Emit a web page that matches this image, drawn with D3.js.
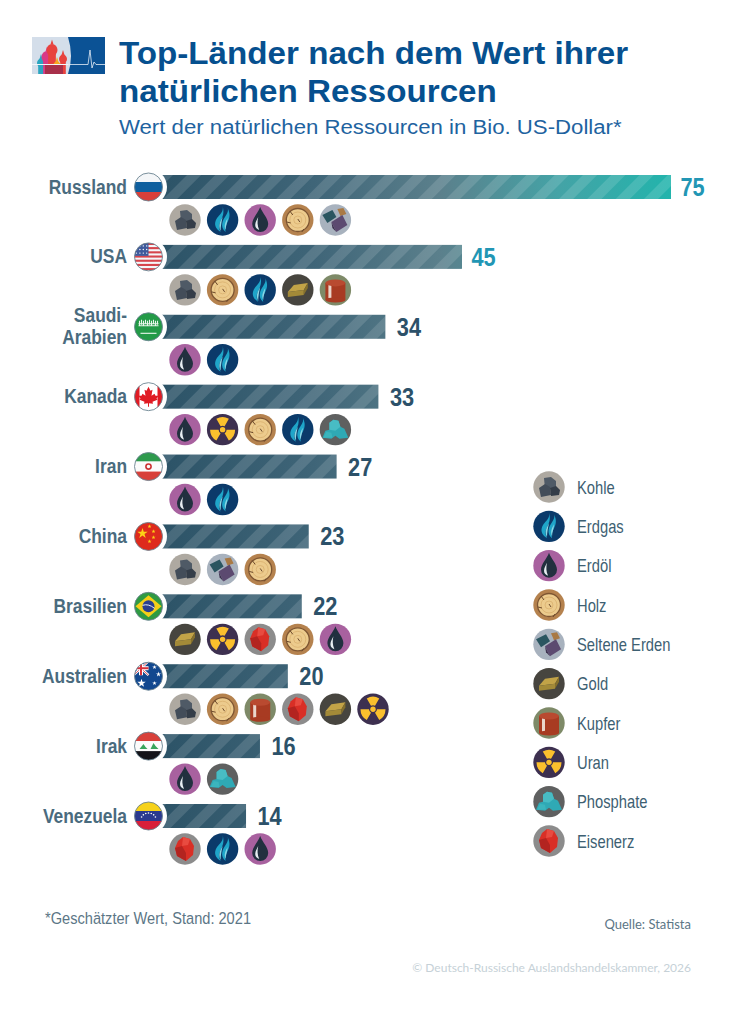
<!DOCTYPE html>
<html lang="de"><head><meta charset="utf-8">
<script src="https://cdn.jsdelivr.net/npm/d3@7"></script>
<style>html,body{margin:0;padding:0;background:#fff}svg{display:block}</style></head>
<body><svg id="c" width="731" height="1024"></svg>
<script>
const countries=["Russland","USA","Saudi-Arabien","Kanada","Iran","China","Brasilien","Australien","Irak","Venezuela"];
const values=[75,45,34,33,27,23,22,20,16,14];
const resources=[
["Kohle","Erdgas","Erdöl","Holz","Seltene Erden"],
["Kohle","Holz","Erdgas","Gold","Kupfer"],
["Erdöl","Erdgas"],
["Erdöl","Uran","Holz","Erdgas","Phosphate"],
["Erdöl","Erdgas"],
["Kohle","Seltene Erden","Holz"],
["Gold","Uran","Eisenerz","Holz","Erdöl"],
["Kohle","Holz","Kupfer","Eisenerz","Gold","Uran"],
["Erdöl","Phosphate"],
["Eisenerz","Erdgas","Erdöl"]];
const legendItems=["Kohle","Erdgas","Erdöl","Holz","Seltene Erden","Gold","Kupfer","Uran","Phosphate","Eisenerz"];
const titleLines=["Top-Länder nach dem Wert ihrer","natürlichen Ressourcen"];
const subtitle="Wert der natürlichen Ressourcen in Bio. US-Dollar*";

const SANS='"Liberation Sans",Arial,sans-serif';
const svg=d3.select("#c"), defs=svg.append("defs");
const x=d3.scaleLinear().domain([0,75]).range([148.5,671]);
const y=d3.scalePoint().domain(countries).range([187,816]);
const slot=d3.scalePoint().domain(d3.range(6)).range([185,373]);
const ly=d3.scalePoint().domain(legendItems).range([487,841]);
const squeeze=(px,py,s)=>`translate(${px},${py}) scale(${s},1)`;

const grad=defs.append("linearGradient").attr("id","barG").attr("gradientUnits","userSpaceOnUse").attr("x1",160).attr("x2",671).attr("y1",0).attr("y2",0);
[[0,"#2c5367"],[0.3,"#3f6578"],[0.55,"#5b808c"],[0.78,"#44a3a6"],[1,"#22b4ac"]].forEach(s=>grad.append("stop").attr("offset",s[0]).attr("stop-color",s[1]));
const pat=defs.append("pattern").attr("id","stripe").attr("patternUnits","userSpaceOnUse").attr("width",20).attr("height",20).attr("patternTransform","rotate(45 163 175)");
pat.append("rect").attr("width",10).attr("height",20).attr("fill","#fff").attr("fill-opacity",.13);

// header
const logo=svg.append("g");
logo.append("rect").attr("x",32).attr("y",37).attr("width",73).attr("height",37).attr("fill","#d4deea");
logo.append("path").attr("d","M68 37H105V74H68Q74 56 68 37Z").attr("fill","#0b5295");
[[41,63,"#2aa5c0",4],[47,57,"#d93a86",5.5],[52,50,"#e8423e",5.5],[63,59,"#e8423e",4],[57,66,"#f7a81f",4]].forEach(d=>{
 logo.append("ellipse").attr("cx",d[0]).attr("cy",d[1]).attr("rx",d[3]).attr("ry",d[3]*1.1).attr("fill",d[2]);
 logo.append("rect").attr("x",d[0]-d[3]*.7).attr("y",d[1]).attr("width",d[3]*1.4).attr("height",74-d[1]).attr("fill",d[2]);
 logo.append("path").attr("d",`M${d[0]-1.5} ${d[1]-d[3]}L${d[0]} ${d[1]-d[3]-5}L${d[0]+1.5} ${d[1]-d[3]}Z`).attr("fill",d[2]);
});
logo.append("rect").attr("x",45).attr("y",65).attr("width",18).attr("height",9).attr("fill","#a8304a");
logo.append("rect").attr("x",32).attr("y",64).attr("width",36).attr("height",1).attr("fill","#f2f5f9");
logo.append("path").attr("d","M68 64.5H88L90 50L92 68L94 62L96 64.5H105").attr("fill","none").attr("stroke","#e6eef6").attr("stroke-width",.8);

svg.selectAll(".title").data(titleLines).join("text").attr("class","title").attr("transform",(d,i)=>squeeze(119,64+i*37.5,1.037))
 .attr("font-family",SANS).attr("font-weight",700).attr("font-size",32).attr("fill","#06508f").text(d=>d);
svg.append("text").attr("transform",squeeze(119,134,1.057)).attr("font-family",SANS).attr("font-size",21).attr("fill","#1e63a0").text(subtitle);

// icons
function p(g,d,f){return g.append("path").attr("d",d).attr("fill",f);}
function bg(g,c){g.append("circle").attr("r",15.7).attr("fill",c);}
const icons={
"Kohle":g=>{bg(g,"#aea9a1");p(g,"M-5-9L2-10L7-6L7 1L-4 2Z","#4f5a66");p(g,"M-10 1L-4-3L1 0L2 8L-8 10Z","#434d59");p(g,"M1 1L7-1L11 3L10 8L2 9Z","#343d48");},
"Erdgas":g=>{bg(g,"#0b3a6a");p(g,"M-2 12C-11 6-7-1-3-5C-1-7 1-10 0-14C2-7 0-3 -2 1C-4 5-4 8-2 12Z","#1fa5c9");p(g,"M3 12C-3 7 0 0 3-4C5-7 6-10 5-12C8-6 7-2 5 2C3 6 2 8 3 12Z","#1fa5c9");p(g,"M-2 11C-5 5-2 1 0-3C-1 2-2 6-2 11Z","#8bd6e4");p(g,"M3 10C1 5 3 2 5-2C5 2 3 6 3 10Z","#8bd6e4");},
"Erdöl":g=>{bg(g,"#a8619f");p(g,"M0-13C2-7 8-2 8 4A8 8 0 0 1-8 4C-8-2-2-7 0-13Z","#22303f");p(g,"M-5 5C-5 2-3-1-2-3C-3 1-3 6-1 10C-3 9-5 8-5 5Z","#e8eef2");},
"Holz":g=>{bg(g,"#b5824e");g.append("circle").attr("r",11.5).attr("fill","#eccb8d").attr("stroke","#7e5633").attr("stroke-width",1.3);
 [4,8].forEach(r=>g.append("circle").attr("r",r).attr("fill","none").attr("stroke","#d9b06e").attr("stroke-width",.8));
 g.append("path").attr("d","M-8-9L-5-5M-11 2L-7 3M6 9L4 12M0-1L2 2").attr("stroke","#6d4a2c").attr("stroke-width",1).attr("fill","none");},
"Seltene Erden":g=>{bg(g,"#a8b2be");p(g,"M-13-5L-3-10L1-3L-8 3Z","#2a5560");p(g,"M2-11L8-12L11-6L5-4Z","#a97a45");p(g,"M-4 2L7-5L12 5L1 12Z","#5c4a70");p(g,"M-4 2L1 12L-3 8Z","#3f3250");},
"Gold":g=>{bg(g,"#47453f");p(g,"M-10 2L-4-5L10-7L6 0Z","#c2a347");p(g,"M-10 2L6 0L6 5L-10 7Z","#a38a38");p(g,"M6 0L10-7L10-2L6 5Z","#85702c");},
"Kupfer":g=>{bg(g,"#7e8a68");g.append("rect").attr("x",-10).attr("y",-7).attr("width",20).attr("height",17).attr("fill","#a83b22");g.append("rect").attr("x",-7).attr("y",-7).attr("width",3).attr("height",17).attr("fill","#ead6cb");g.append("ellipse").attr("cy",-7).attr("rx",10).attr("ry",3.5).attr("fill","#b94a30");g.append("ellipse").attr("cy",10).attr("rx",10).attr("ry",2.5).attr("fill","#a83b22");},
"Uran":g=>{bg(g,"#3d3050");const a=d3.arc().innerRadius(4).outerRadius(12.5);[0,120,240].forEach(t=>p(g,a({startAngle:(t-30)*Math.PI/180,endAngle:(t+30)*Math.PI/180}),"#fbc02d"));g.append("circle").attr("r",2.7).attr("fill","#fbc02d");},
"Phosphate":g=>{bg(g,"#5f6060");p(g,"M-13 8L-10 1L-6 0L-6-7L-2-10L3-9L5-3L9-1L13 8L4 9L0 6L-4 9Z","#2fa9b5");p(g,"M-6 0L-6-7L-2-10L3-9L5-3L0 1Z","#48bcc4");p(g,"M-12 8L-9 2L-4 3L-3 8Z","#3bb5bd");},
"Eisenerz":g=>{bg(g,"#8c8c8c");p(g,"M-2-12L5-10L9-3L8 6L1 12L-8 7L-10-1L-7-8Z","#d92f26");p(g,"M-10-1L-3-3L1 4L1 12L-8 7Z","#b32420");p(g,"M-2-12L5-10L3-4L-3-3Z","#e84b40");}
};

// flags
function st(g,cx,cy,size,c){g.append("path").attr("d",d3.symbol(d3.symbolStar,size)()).attr("transform",`translate(${cx},${cy})`).attr("fill",c);}
function R(g,a,b,w,h,c){g.append("rect").attr("x",a).attr("y",b).attr("width",w).attr("height",h).attr("fill",c);}
const flags={
"Russland":g=>{R(g,-15,-15,30,10,"#f4f6f8");R(g,-15,-5,30,10,"#0f5f9e");R(g,-15,5,30,10,"#d8403a");},
"USA":g=>{R(g,-15,-15,30,30,"#f4f6f8");for(let i=0;i<7;i++)R(g,-15,-14+i*4.2,30,2.1,"#d6454c");R(g,-15,-15,15,14,"#3f5a9c");for(let a=0;a<4;a++)for(let b=0;b<3;b++)g.append("circle").attr("cx",-12+a*3.4).attr("cy",-11+b*3.6).attr("r",.7).attr("fill","#fff");},
"Saudi-Arabien":g=>{R(g,-15,-15,30,30,"#239a47");g.append("path").attr("d","M-9-1V-6M-7-2V-7M-5-1V-6M-3-3V-7M-1-1V-6M1-2V-7M3-1V-6M5-3V-7M7-1V-6M9-2V-6M-10-3H10M-10-1H10").attr("stroke","#e8f5ea").attr("stroke-width",1.1).attr("fill","none");R(g,-8,6,16,1,"#fff");},
"Kanada":g=>{R(g,-15,-15,30,30,"#fff");R(g,-15,-15,6,30,"#e01b24");R(g,9,-15,6,30,"#e01b24");p(g,"M0-10L2-6L4-7L3-1L6-3L7-1L10-1L8 2L9 3L4 5L4.5 7L.5 6.5V10H-.5V6.5L-4.5 7L-4 5L-9 3L-8 2L-10-1L-7-1L-6-3L-3-1L-4-7L-2-6Z","#e01b24");},
"Iran":g=>{R(g,-15,-15,30,10,"#2e9a4d");R(g,-15,-5,30,10,"#fbfbfb");R(g,-15,5,30,10,"#d8403a");g.append("circle").attr("r",2.6).attr("fill","none").attr("stroke","#cc3333").attr("stroke-width",1.6);},
"China":g=>{R(g,-15,-15,30,30,"#de2a1c");st(g,-6,-3,34,"#fcd116");[[1,-10],[5,-5],[5,1],[1,5]].forEach(d=>st(g,d[0],d[1],5,"#fcd116"));},
"Brasilien":g=>{R(g,-15,-15,30,30,"#2f9a42");p(g,"M0-11L13 0L0 11L-13 0Z","#f4cf18");g.append("circle").attr("r",6).attr("fill","#2a3f8f");g.append("path").attr("d","M-6-1Q0-3 6 2").attr("stroke","#e8edf4").attr("stroke-width",1).attr("fill","none");},
"Australien":g=>{R(g,-15,-15,30,30,"#12488f");g.append("path").attr("d","M-15-15L0-1M0-15L-15-1").attr("stroke","#fff").attr("stroke-width",2.4);g.append("path").attr("d","M-15-15L0-1M0-15L-15-1").attr("stroke","#d8303a").attr("stroke-width",.8);R(g,-15,-10,15,4,"#fff");R(g,-9.5,-15,4,14,"#fff");R(g,-15,-9,15,2,"#d8303a");R(g,-8.5,-15,2,14,"#d8303a");st(g,-7,7,22,"#fff");st(g,10,-2,8,"#fff");st(g,6,-9,6,"#fff");st(g,6,7,6,"#fff");},
"Irak":g=>{R(g,-15,-15,30,10,"#d8403a");R(g,-15,-5,30,10,"#fbfbfb");R(g,-15,5,30,10,"#14141a");p(g,"M-9 3L-5-2L-3 1L-1 3Z","#3aa55c");p(g,"M2 3L5-3L7 0L10 3Z","#3aa55c");},
"Venezuela":g=>{R(g,-15,-15,30,10,"#f6d21a");R(g,-15,-5,30,10,"#2b3a8f");R(g,-15,5,30,10,"#d81f3a");d3.range(-60,61,20).forEach(a=>g.append("circle").attr("cx",8*Math.sin(a*Math.PI/180)).attr("cy",5-8*Math.cos(a*Math.PI/180)).attr("r",.8).attr("fill","#fff"));}
};

// rows
const rows=svg.selectAll(".row").data(countries).join("g").attr("class","row");
rows.append("rect").attr("x",x(0)).attr("y",d=>y(d)-12).attr("height",24).attr("width",(d,i)=>x(values[i])-x(0)).attr("fill","url(#barG)");
rows.append("rect").attr("x",x(0)).attr("y",d=>y(d)-12).attr("height",24).attr("width",(d,i)=>x(values[i])-x(0)).attr("fill","url(#stripe)");
rows.append("circle").attr("cx",x(0)).attr("cy",d=>y(d)).attr("r",18.5).attr("fill","#fff");
rows.each(function(d,i){
 const id="clip"+i;
 defs.append("clipPath").attr("id",id).append("circle").attr("r",14);
 const f=d3.select(this).append("g").attr("transform",`translate(${x(0)},${y(d)})`);
 flags[d](f.append("g").attr("clip-path",`url(#${id})`));
 f.append("circle").attr("r",14).attr("fill","none").attr("stroke","#6b8391").attr("stroke-width",.9);
 resources[i].forEach((r,j)=>{
  icons[r](d3.select(this).append("g").attr("transform",`translate(${slot(j)},${y(d)+33})`));
 });
});
const labelLines=d=>d==="Saudi-Arabien"?["Saudi-","Arabien"]:[d];
rows.each(function(d){
 const l=labelLines(d);
 d3.select(this).selectAll(".lab").data(l).join("text").attr("class","lab")
  .attr("transform",(t,k)=>squeeze(127,y(d)+6.5+(l.length>1?(k===0?-11:10.5):0),.87))
  .attr("text-anchor","end").attr("font-family",SANS).attr("font-weight",700).attr("font-size",20)
  .attr("fill","#4a6b7e").text(t=>t);
});
rows.append("text").attr("transform",(d,i)=>squeeze(x(values[i])+(i<2?9.5:11.5),y(d)+9,.87))
 .attr("font-family",SANS).attr("font-weight",700).attr("font-size",25)
 .attr("fill",(d,i)=>i<2?"#2296b4":"#2c5169").text((d,i)=>values[i]);

// legend
const leg=svg.selectAll(".leg").data(legendItems).join("g").attr("class","leg").attr("transform",d=>`translate(549,${ly(d)})`);
leg.each(function(d){icons[d](d3.select(this));});
leg.append("text").attr("transform",squeeze(28,6.5,.82)).attr("font-family",SANS).attr("font-size",18).attr("fill","#3d6072").text(d=>d);

// footer
svg.append("text").attr("transform",squeeze(45,924,.86)).attr("font-family",SANS).attr("font-size",17).attr("fill","#5c7686").text("*Geschätzter Wert, Stand: 2021");
svg.append("text").attr("x",691).attr("y",929).attr("text-anchor","end").attr("font-family","Lato,sans-serif").attr("font-size",13).attr("fill","#5c7686").text("Quelle: Statista");
svg.append("text").attr("x",691).attr("y",972).attr("text-anchor","end").attr("font-family","Lato,sans-serif").attr("font-size",12).attr("fill","#c6d1d7").text("© Deutsch-Russische Auslandshandelskammer, 2026");
</script></body></html>
